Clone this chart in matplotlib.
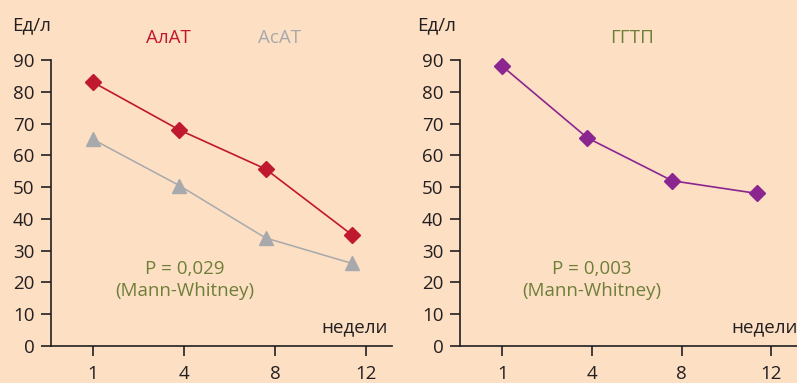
import matplotlib
matplotlib.use("Agg")
import matplotlib.pyplot as plt

# weeks and measured enzyme levels (U/l)
weeks = ["1", "4", "8", "12"]
alat = [83, 68, 55.7, 35]
asat = [65, 50.5, 34, 26]
ggtp = [88, 65.5, 52, 48]
y_ticks = [0, 10, 20, 30, 40, 50, 60, 70, 80, 90]

BG = "#FDDFC3"
INK = "#231F20"
RED = "#C0182F"
GREY = "#A7A9AC"
PURPLE = "#8B2590"
GREEN = "#6E7F3A"
FS = 13.5

plt.rcParams["font.family"] = ["Open Sans", "DejaVu Sans"]

fig = plt.figure(figsize=(7.97, 3.83), dpi=100, facecolor=BG)

# points sit slightly left of the tick marks in the original layout
pts = list(range(len(weeks)))
tick_pos = [0.0, 1.05, 2.11, 3.16]


def setup_axis(ax, xlim):
    ax.set_facecolor(BG)
    ax.set_xlim(*xlim)
    ax.set_ylim(0, 90)
    ax.set_yticks(y_ticks)
    ax.set_xticks(tick_pos)
    ax.set_xticklabels(weeks)
    for s in ["top", "right"]:
        ax.spines[s].set_visible(False)
    for s in ["left", "bottom"]:
        ax.spines[s].set_color(INK)
        ax.spines[s].set_linewidth(1.2)
    ax.tick_params(axis="both", colors=INK, labelcolor=INK, labelsize=FS,
                   length=7, width=1.2)
    ax.tick_params(axis="y", pad=5)
    ax.tick_params(axis="x", pad=7)


ax1 = fig.add_axes([51 / 797, 37 / 383, 341 / 797, 286 / 383])
setup_axis(ax1, (-0.487, 3.465))
ax1.plot(pts, alat, color=RED, lw=1.2, marker="D", ms=8, clip_on=False, zorder=3)
ax1.plot(pts, asat, color=GREY, lw=1.1, marker="^", ms=10, clip_on=False, zorder=3)

ax2 = fig.add_axes([460 / 797, 37 / 383, 337 / 797, 286 / 383])
setup_axis(ax2, (-0.50, 3.47))
ax2.plot(pts, ggtp, color=PURPLE, lw=1.2, marker="D", ms=8, clip_on=False, zorder=3)

# labels in figure pixel coordinates (top-left origin)
def ftext(x, y, s, **kw):
    fig.text(x / 797, 1 - y / 383, s, **kw)

ftext(12, 25, "Ед/л", fontsize=FS, color=INK, ha="left", va="center")
ftext(417, 25, "Ед/л", fontsize=FS, color=INK, ha="left", va="center")
ftext(168, 38, "АлАТ", fontsize=FS, color=RED, ha="center", va="center")
ftext(280, 38, "АсАТ", fontsize=FS, color=GREY, ha="center", va="center")
ftext(632, 38, "ГГТП", fontsize=FS, color=GREEN, ha="center", va="center")

for cx, p in [(185, "P = 0,029"), (592, "P = 0,003")]:
    ftext(cx, 269, p, fontsize=FS, color=GREEN, ha="center", va="center")
    ftext(cx, 291, "(Mann-Whitney)", fontsize=FS, color=GREEN, ha="center", va="center")

ftext(388, 327, "недели", fontsize=FS, color=INK, ha="right", va="center")
ftext(731, 327, "недели", fontsize=FS, color=INK, ha="left", va="center")

fig.savefig("out.png", dpi=100, facecolor=BG)
